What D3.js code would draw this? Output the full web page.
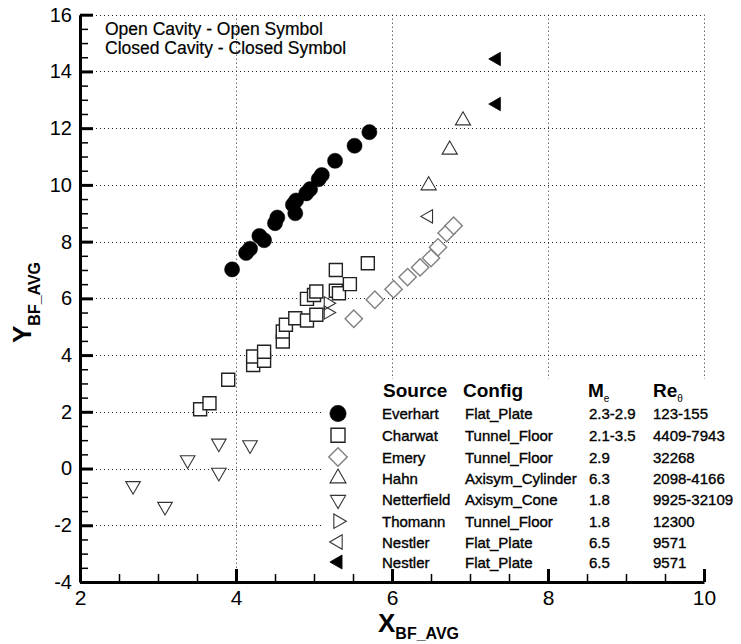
<!DOCTYPE html>
<html><head><meta charset="utf-8">
<script src="https://cdn.jsdelivr.net/npm/d3@7/dist/d3.min.js"></script>
<style>
body{margin:0;background:#fff}
svg{display:block;font-family:"Liberation Sans",Arial,Helvetica,sans-serif}
</style>
</head><body>
<svg id="chart" width="741" height="644"></svg>
<script>
// ---------------- DATA ----------------
const everhart = [[3.95,7.02],[4.13,7.6],[4.18,7.75],[4.3,8.2],[4.36,8.05],[4.5,8.65],[4.53,8.85],[4.73,9.3],[4.76,9.0],[4.77,9.45],[4.9,9.7],[4.95,9.85],[5.06,10.2],[5.1,10.35],[5.27,10.85],[5.52,11.38],[5.71,11.86]];
const charwat = [[3.54,2.09],[3.66,2.3],[3.9,3.13],[4.22,3.65],[4.22,3.95],[4.36,3.8],[4.36,4.12],[4.6,4.48],[4.6,4.83],[4.64,5.07],[4.76,5.3],[4.91,5.22],[5.03,5.42],[4.91,5.98],[5.0,6.12],[5.03,6.24],[5.28,6.27],[5.32,6.18],[5.46,6.5],[5.28,7.0],[5.69,7.24]];
const emery = [[5.51,5.28],[5.78,5.95],[6.02,6.32],[6.2,6.75],[6.36,7.09],[6.5,7.42],[6.59,7.8],[6.7,8.3],[6.79,8.56]];
const hahn = [[6.47,9.98],[6.74,11.24],[6.91,12.27]];
const netterfield = [[2.68,-0.61],[3.09,-1.34],[3.38,0.30],[3.78,0.89],[3.78,-0.14],[4.18,0.83]];
const thomann = [[5.18,5.83],[5.18,5.5]];
const nestlerOpen = [[6.47,8.89]];
const nestlerClosed = [[7.34,14.44],[7.34,12.85]];

const sources = ["Everhart","Charwat","Emery","Hahn","Netterfield","Thomann","Nestler","Nestler"];
const configs = ["Flat_Plate","Tunnel_Floor","Tunnel_Floor","Axisym_Cylinder","Axisym_Cone","Tunnel_Floor","Flat_Plate","Flat_Plate"];
const machs = ["2.3-2.9"," 2.1-3.5","2.9","6.3","1.8","1.8","6.5","6.5"];
const reynolds = ["123-155","4409-7943","32268","2098-4166"," 9925-32109"," 12300","9571","9571"];

const xTicks = [2,4,6,8,10];
const yTicks = [-4,-2,0,2,4,6,8,10,12,14,16];
const notes = ["Open Cavity - Open Symbol","Closed Cavity - Closed Symbol"];

// ---------------- STYLE ----------------
const seriesData = [everhart,charwat,emery,hahn,netterfield,thomann,nestlerOpen,nestlerClosed];
const styles = [
  {type:d3.symbolCircle, size:180, rot:0, fill:"#000", stroke:"#000", sw:0.5, lsize:210},
  {type:d3.symbolSquare, size:169, rot:0, fill:"#fff", stroke:"#222", sw:1.4, lsize:196},
  {type:d3.symbolSquare, size:150, rot:45, fill:"#fff", stroke:"#808080", sw:1.4, lsize:170},
  {type:d3.symbolTriangle, size:100, rot:0, fill:"#fff", stroke:"#333", sw:1.1, lsize:110},
  {type:d3.symbolTriangle, size:92, rot:180, fill:"#fff", stroke:"#333", sw:1.1, lsize:100},
  {type:d3.symbolTriangle, size:75, rot:90, fill:"none", stroke:"#333", sw:1.1, lsize:90},
  {type:d3.symbolTriangle, size:78, rot:-90, fill:"#fff", stroke:"#333", sw:1.1, lsize:90},
  {type:d3.symbolTriangle, size:78, rot:-90, fill:"#000", stroke:"#000", sw:0.8, lsize:85}
];

const svg = d3.select("#chart");
const x = d3.scaleLinear().domain([2,10]).range([80,704]);
const y = d3.scaleLinear().domain([-4,16]).range([582,14.7]);
const px = v => Math.round(v) + 0.5;

// grid
const grid = svg.append("g").attr("stroke","#222").attr("stroke-width",1).attr("stroke-dasharray","1,3");
grid.selectAll(".gx").data(xTicks.filter(d=>d>2)).join("line")
  .attr("x1",d=>px(x(d))).attr("x2",d=>px(x(d))).attr("y1",y(16)).attr("y2",y(-4));
grid.selectAll(".gy").data(yTicks.filter(d=>d>-4)).join("line")
  .attr("x1",x(2)).attr("x2",x(10)).attr("y1",d=>px(y(d))).attr("y2",d=>px(y(d)));

// legend background
svg.append("rect").attr("x",322).attr("y",379).attr("width",419).attr("height",200).attr("fill","#fff");

// data points
seriesData.forEach((data,i)=>{
  const s = styles[i];
  svg.append("g").selectAll("path").data(data).join("path")
    .attr("d", d3.symbol().type(s.type).size(s.size))
    .attr("transform", d=>`translate(${x(d[0])},${y(d[1])}) rotate(${s.rot})`)
    .attr("fill", s.fill).attr("stroke", s.stroke).attr("stroke-width", s.sw);
});

// axes
function styleAxis(g, fs){
  g.attr("font-family",null).attr("font-size",null);
  g.selectAll("text").attr("font-size",fs).attr("fill","#000");
  g.selectAll("line").attr("stroke","#000").attr("stroke-width",3);
  g.select(".domain").attr("stroke","#000").attr("stroke-width",3);
}
const minorX = d3.range(2.5,10,0.5).filter(d=>d%2!==0);
const minorY = d3.range(-3.5,16,0.5).filter(d=>d%2!==0);
svg.append("g").attr("transform",`translate(${x(2)},0)`)
  .call(d3.axisLeft(y).tickValues(minorY).tickSize(-8).tickFormat(""))
  .call(g=>{g.select(".domain").remove(); g.selectAll("line").attr("stroke","#000").attr("stroke-width",1.5);});
svg.append("g").attr("transform",`translate(0,${y(-4)})`)
  .call(d3.axisBottom(x).tickValues(minorX).tickSize(-8).tickFormat(""))
  .call(g=>{g.select(".domain").remove(); g.selectAll("line").attr("stroke","#000").attr("stroke-width",1.5);});
svg.append("g").attr("transform",`translate(${x(2)},0)`)
  .call(d3.axisLeft(y).tickValues(yTicks).tickSize(-13).tickSizeOuter(0).tickPadding(8).tickFormat(d=>String(d)))
  .call(g=>styleAxis(g,20));
svg.append("g").attr("transform",`translate(0,${y(-4)})`)
  .call(d3.axisBottom(x).tickValues(xTicks).tickSize(-13).tickSizeOuter(0).tickPadding(8).tickFormat(d=>String(d)))
  .call(g=>styleAxis(g,21));

// axis titles
const xt = svg.append("text").attr("x",378).attr("y",632).attr("font-weight","bold").attr("font-size",26);
xt.append("tspan").text("X");
xt.append("tspan").attr("font-size",16).attr("dy",7).text("BF_AVG");
const yt = svg.append("text").attr("transform","translate(31,343) rotate(-90)").attr("font-weight","bold").attr("font-size",26);
yt.append("tspan").text("Y");
yt.append("tspan").attr("font-size",16).attr("dy",9).text("BF_AVG");

// notes
svg.append("g").selectAll("text").data(notes).join("text")
  .attr("x",105).attr("y",(d,i)=>35+i*18.5).attr("font-size",17.5)
  .attr("stroke","#000").attr("stroke-width",0.2).text(d=>d);

// legend
const rowY = [413.5,435.3,457,478.3,499.8,521.2,542,562];
const leg = svg.append("g");
const hdr = leg.append("g").attr("font-weight","bold").attr("font-size",19);
hdr.append("text").attr("x",383).attr("y",397).text("Source");
hdr.append("text").attr("x",463).attr("y",397).text("Config");
const mh = hdr.append("text").attr("x",588).attr("y",397);
mh.append("tspan").text("M");
mh.append("tspan").attr("font-size",10).attr("font-weight","normal").attr("dy",5).text("e");
const rh = hdr.append("text").attr("x",653).attr("y",397);
rh.append("tspan").text("Re");
rh.append("tspan").attr("font-size",10).attr("font-weight","normal").attr("dy",5).text("θ");

sources.forEach((src,i)=>{
  const s = styles[i];
  const cy = rowY[i];
  leg.append("path").attr("d", d3.symbol().type(s.type).size(s.lsize)())
    .attr("transform",`translate(338,${cy}) rotate(${s.rot})`)
    .attr("fill", s.fill).attr("stroke", s.stroke).attr("stroke-width", s.sw);
  const t = leg.append("g").attr("font-size",15).attr("stroke","#000").attr("stroke-width",0.35).attr("style","white-space:pre");
  t.append("text").attr("x",382).attr("y",cy+5.5).text(src);
  t.append("text").attr("x",465).attr("y",cy+5.5).text(configs[i]);
  t.append("text").attr("x",589).attr("y",cy+5.5).text(machs[i]);
  t.append("text").attr("x",653).attr("y",cy+5.5).text(reynolds[i]);
});
</script>
</body></html>
